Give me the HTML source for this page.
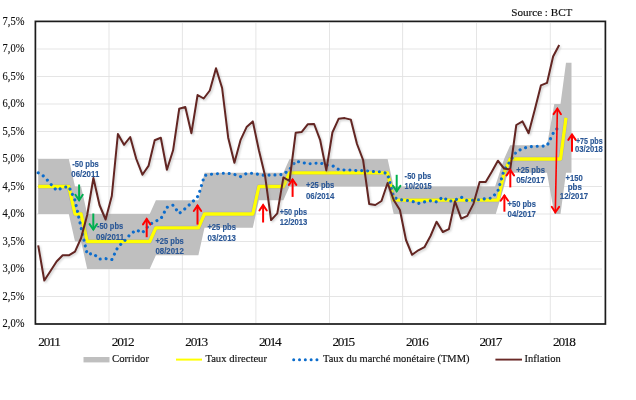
<!DOCTYPE html>
<html lang="fr">
<head>
<meta charset="utf-8">
<title>Taux directeur, TMM et inflation</title>
<style>
html,body{margin:0;padding:0;background:#fff;}
body{width:636px;height:400px;overflow:hidden;position:relative;}
svg{display:block;position:absolute;left:0;top:0;}
.ax{font-family:"Liberation Serif","DejaVu Serif",serif;fill:#111;stroke:#111;stroke-width:0.15px;}
.an{font-family:"Liberation Sans","DejaVu Sans Condensed",sans-serif;font-weight:bold;fill:#2a5796;stroke:#2a5796;stroke-width:0.15px;font-size:9.6px;}
</style>
</head>
<body>
<svg width="636" height="400" viewBox="0 0 636 400">
<defs>
<filter id="soft" x="-5%" y="-5%" width="110%" height="110%"><feGaussianBlur stdDeviation="0.5"/></filter>
<filter id="sh" x="-5%" y="-5%" width="110%" height="110%"><feGaussianBlur stdDeviation="0.8"/></filter>
</defs>
<rect x="0" y="0" width="636" height="400" fill="#ffffff"/>
<g filter="url(#soft)">
<g stroke="#e2e2e2" stroke-width="0.9" fill="none"><line x1="37" y1="296.5" x2="602" y2="296.5"/><line x1="37" y1="269.0" x2="602" y2="269.0"/><line x1="37" y1="241.5" x2="602" y2="241.5"/><line x1="37" y1="214.0" x2="602" y2="214.0"/><line x1="37" y1="186.5" x2="602" y2="186.5"/><line x1="37" y1="159.0" x2="602" y2="159.0"/><line x1="37" y1="131.5" x2="602" y2="131.5"/><line x1="37" y1="104.0" x2="602" y2="104.0"/><line x1="37" y1="76.5" x2="602" y2="76.5"/><line x1="37" y1="49.0" x2="602" y2="49.0"/><line x1="109.0" y1="23" x2="109.0" y2="323"/><line x1="182.4" y1="23" x2="182.4" y2="323"/><line x1="255.9" y1="23" x2="255.9" y2="323"/><line x1="329.5" y1="23" x2="329.5" y2="323"/><line x1="402.6" y1="23" x2="402.6" y2="323"/><line x1="476.5" y1="23" x2="476.5" y2="323"/><line x1="550.3" y1="23" x2="550.3" y2="323"/></g>
<polygon points="38.2,159.0 44.3,159.0 50.5,159.0 56.6,159.0 62.7,159.0 68.8,159.0 75.0,186.5 81.1,186.5 87.2,214.0 93.4,214.0 99.5,214.0 105.6,214.0 111.8,214.0 117.9,214.0 124.0,214.0 130.2,214.0 136.3,214.0 142.4,214.0 149.7,214.0 155.9,200.2 160.8,200.2 166.9,200.2 173.1,200.2 179.2,200.2 185.3,200.2 191.4,200.2 198.4,200.2 204.5,172.8 209.8,172.8 216.0,172.8 222.1,172.8 228.2,172.8 234.4,172.8 240.5,172.8 246.6,172.8 252.8,172.8 258.9,172.8 265.0,172.8 271.1,172.8 277.3,172.8 283.4,172.8 289.5,159.0 295.7,159.0 301.8,159.0 307.9,159.0 314.1,159.0 320.2,159.0 326.3,159.0 332.4,159.0 338.6,159.0 344.7,159.0 350.8,159.0 357.0,159.0 363.1,159.0 369.2,159.0 375.3,159.0 381.5,159.0 387.6,159.0 393.7,186.5 399.9,186.5 406.0,186.5 412.1,186.5 418.3,186.5 424.4,186.5 430.5,186.5 436.6,186.5 442.8,186.5 448.9,186.5 455.0,186.5 461.2,186.5 467.3,186.5 473.4,186.5 479.6,186.5 485.7,186.5 491.8,186.5 495.1,186.5 504.1,159.0 510.2,145.2 516.3,145.2 522.5,145.2 528.6,145.2 534.7,145.2 540.9,145.2 547.0,145.2 554.3,104.0 560.5,104.0 566.0,62.8 571.5,62.8 571.5,172.8 566.0,172.8 560.5,214.0 554.3,214.0 547.0,172.8 540.9,172.8 534.7,172.8 528.6,172.8 522.5,172.8 516.3,172.8 507.7,172.8 504.1,186.5 495.8,214.0 491.8,214.0 485.7,214.0 479.6,214.0 473.4,214.0 467.3,214.0 461.2,214.0 455.0,214.0 448.9,214.0 442.8,214.0 436.6,214.0 430.5,214.0 424.4,214.0 418.3,214.0 412.1,214.0 406.0,214.0 399.9,214.0 393.7,214.0 387.6,186.5 381.5,186.5 375.3,186.5 369.2,186.5 363.1,186.5 357.0,186.5 350.8,186.5 344.7,186.5 338.6,186.5 332.4,186.5 326.3,186.5 320.2,186.5 314.1,186.5 307.9,186.5 301.8,186.5 295.7,186.5 289.5,186.5 283.4,200.2 277.3,200.2 271.1,200.2 265.0,200.2 258.9,200.2 252.8,227.8 246.6,227.8 240.5,227.8 234.4,227.8 228.2,227.8 222.1,227.8 216.0,227.8 209.8,227.8 204.5,227.8 198.4,255.2 191.4,255.2 185.3,255.2 179.2,255.2 173.1,255.2 166.9,255.2 160.8,255.2 155.9,255.2 149.7,269.0 142.4,269.0 136.3,269.0 130.2,269.0 124.0,269.0 117.9,269.0 111.8,269.0 105.6,269.0 99.5,269.0 93.4,269.0 87.2,269.0 81.1,241.5 75.0,241.5 68.8,214.0 62.7,214.0 56.6,214.0 50.5,214.0 44.3,214.0 38.2,214.0" fill="#bfbfbf"/>
<polyline points="38.2,186.5 44.3,186.5 50.5,186.5 56.6,186.5 62.7,186.5 68.8,186.5 75.0,214.0 81.1,214.0 87.2,241.5 93.4,241.5 99.5,241.5 105.6,241.5 111.8,241.5 117.9,241.5 124.0,241.5 130.2,241.5 136.3,241.5 142.4,241.5 149.7,241.5 155.9,227.8 160.8,227.8 166.9,227.8 173.1,227.8 179.2,227.8 185.3,227.8 191.4,227.8 198.4,227.8 204.5,214.0 209.8,214.0 216.0,214.0 222.1,214.0 228.2,214.0 234.4,214.0 240.5,214.0 246.6,214.0 252.8,214.0 258.9,186.5 265.0,186.5 271.1,186.5 277.3,186.5 283.4,186.5 289.5,172.8 295.7,172.8 301.8,172.8 307.9,172.8 314.1,172.8 320.2,172.8 326.3,172.8 332.4,172.8 338.6,172.8 344.7,172.8 350.8,172.8 357.0,172.8 363.1,172.8 369.2,172.8 375.3,172.8 381.5,172.8 387.6,172.8 393.7,200.2 399.9,200.2 406.0,200.2 412.1,200.2 418.3,200.2 424.4,200.2 430.5,200.2 436.6,200.2 442.8,200.2 448.9,200.2 455.0,200.2 461.2,200.2 467.3,200.2 473.4,200.2 479.6,200.2 485.7,200.2 491.8,200.2 497.9,200.2 504.1,172.8 510.2,159.0 516.3,159.0 522.5,159.0 528.6,159.0 534.7,159.0 540.9,159.0 547.0,159.0 554.3,159.0 560.5,159.0 566.0,117.8" fill="none" stroke="#9c9cc4" stroke-opacity="0.75" stroke-width="4.3" stroke-linejoin="round"/>
<polyline points="38.2,186.5 44.3,186.5 50.5,186.5 56.6,186.5 62.7,186.5 68.8,186.5 75.0,214.0 81.1,214.0 87.2,241.5 93.4,241.5 99.5,241.5 105.6,241.5 111.8,241.5 117.9,241.5 124.0,241.5 130.2,241.5 136.3,241.5 142.4,241.5 149.7,241.5 155.9,227.8 160.8,227.8 166.9,227.8 173.1,227.8 179.2,227.8 185.3,227.8 191.4,227.8 198.4,227.8 204.5,214.0 209.8,214.0 216.0,214.0 222.1,214.0 228.2,214.0 234.4,214.0 240.5,214.0 246.6,214.0 252.8,214.0 258.9,186.5 265.0,186.5 271.1,186.5 277.3,186.5 283.4,186.5 289.5,172.8 295.7,172.8 301.8,172.8 307.9,172.8 314.1,172.8 320.2,172.8 326.3,172.8 332.4,172.8 338.6,172.8 344.7,172.8 350.8,172.8 357.0,172.8 363.1,172.8 369.2,172.8 375.3,172.8 381.5,172.8 387.6,172.8 393.7,200.2 399.9,200.2 406.0,200.2 412.1,200.2 418.3,200.2 424.4,200.2 430.5,200.2 436.6,200.2 442.8,200.2 448.9,200.2 455.0,200.2 461.2,200.2 467.3,200.2 473.4,200.2 479.6,200.2 485.7,200.2 491.8,200.2 497.9,200.2 504.1,172.8 510.2,159.0 516.3,159.0 522.5,159.0 528.6,159.0 534.7,159.0 540.9,159.0 547.0,159.0 554.3,159.0 560.5,159.0 566.0,117.8" fill="none" stroke="#ffff00" stroke-width="3.3" stroke-linejoin="round"/>
<polyline points="38.2,172.8 44.3,176.6 50.5,183.8 56.6,190.4 62.7,187.6 68.8,186.5 75.0,200.2 81.1,227.8 87.2,254.2 93.4,253.6 99.5,259.1 105.6,258.6 111.8,259.6 117.9,247.0 124.0,241.5 130.2,234.4 136.3,229.9 142.4,232.7 149.7,224.4 155.9,221.1 160.8,218.9 166.9,207.4 173.1,205.2 179.2,213.5 185.3,208.5 191.4,203.0 198.4,195.8 204.5,175.5 209.8,174.4 216.0,173.8 222.1,173.3 228.2,173.3 234.4,174.4 240.5,176.6 246.6,173.3 252.8,173.3 258.9,174.4 265.0,175.5 271.1,174.9 277.3,174.9 283.4,174.4 289.5,169.5 295.7,161.2 301.8,162.3 307.9,163.9 314.1,163.4 320.2,162.9 326.3,165.1 332.4,165.6 338.6,169.5 344.7,170.0 350.8,170.0 357.0,170.6 363.1,170.6 369.2,171.1 375.3,171.7 381.5,171.7 387.6,173.8 393.7,197.5 399.9,199.7 406.0,200.2 412.1,201.3 418.3,203.5 424.4,201.9 430.5,200.8 436.6,201.9 442.8,197.0 448.9,201.3 455.0,200.2 461.2,197.0 467.3,200.8 473.4,200.2 479.6,199.7 485.7,198.6 491.8,198.1 497.9,190.9 504.1,170.0 510.2,161.2 516.3,151.8 522.5,148.5 528.6,146.9 534.7,146.3 540.9,146.3 547.0,145.8 554.3,131.0 560.5,126.0" fill="none" stroke="#0a6ccc" stroke-width="3.1" stroke-linecap="round" stroke-dasharray="0.01 5.9" stroke-linejoin="round"/>
<polyline points="38.2,245.3 44.3,280.5 50.5,271.0 56.6,261.5 62.7,255.3 68.8,255.3 75.0,251.6 81.1,238.0 87.2,215.0 93.4,178.0 99.5,205.0 105.6,219.5 111.8,196.0 117.9,134.0 124.0,144.8 130.2,137.0 136.3,159.0 142.4,174.7 148.5,165.9 154.7,140.2 160.8,137.7 166.9,169.8 173.1,150.3 179.2,108.8 185.3,107.0 191.4,133.2 197.6,95.0 203.7,98.5 209.8,90.5 216.0,68.3 222.1,88.0 228.2,137.7 234.4,162.8 240.5,140.2 246.6,127.1 252.8,121.4 258.9,150.3 265.0,175.4 271.1,220.1 277.3,213.3 283.4,177.4 289.5,181.0 295.7,132.7 301.8,131.9 307.9,124.2 314.1,124.0 320.2,140.2 326.3,170.4 332.4,132.5 338.6,118.8 344.7,118.1 350.8,119.6 357.0,144.0 363.1,160.0 369.2,204.0 375.3,205.0 381.5,201.0 387.6,183.0 393.7,200.0 399.9,210.0 406.0,240.0 412.1,254.8 418.3,250.3 424.4,247.2 430.5,236.0 436.6,221.7 442.8,232.0 448.9,229.1 455.0,201.3 461.2,218.6 467.3,215.9 473.4,203.9 479.6,182.0 485.7,182.0 491.8,171.7 497.9,160.7 504.1,168.6 510.2,169.6 516.3,125.0 522.5,121.4 528.6,133.2 534.7,110.0 540.9,85.4 547.0,82.9 553.1,56.5 559.2,45.0" fill="none" stroke="#9a9a9a" stroke-opacity="0.55" stroke-width="1.8" stroke-linejoin="round" transform="translate(1.2,1.4)" filter="url(#sh)"/>
<polyline points="38.2,245.3 44.3,280.5 50.5,271.0 56.6,261.5 62.7,255.3 68.8,255.3 75.0,251.6 81.1,238.0 87.2,215.0 93.4,178.0 99.5,205.0 105.6,219.5 111.8,196.0 117.9,134.0 124.0,144.8 130.2,137.0 136.3,159.0 142.4,174.7 148.5,165.9 154.7,140.2 160.8,137.7 166.9,169.8 173.1,150.3 179.2,108.8 185.3,107.0 191.4,133.2 197.6,95.0 203.7,98.5 209.8,90.5 216.0,68.3 222.1,88.0 228.2,137.7 234.4,162.8 240.5,140.2 246.6,127.1 252.8,121.4 258.9,150.3 265.0,175.4 271.1,220.1 277.3,213.3 283.4,177.4 289.5,181.0 295.7,132.7 301.8,131.9 307.9,124.2 314.1,124.0 320.2,140.2 326.3,170.4 332.4,132.5 338.6,118.8 344.7,118.1 350.8,119.6 357.0,144.0 363.1,160.0 369.2,204.0 375.3,205.0 381.5,201.0 387.6,183.0 393.7,200.0 399.9,210.0 406.0,240.0 412.1,254.8 418.3,250.3 424.4,247.2 430.5,236.0 436.6,221.7 442.8,232.0 448.9,229.1 455.0,201.3 461.2,218.6 467.3,215.9 473.4,203.9 479.6,182.0 485.7,182.0 491.8,171.7 497.9,160.7 504.1,168.6 510.2,169.6 516.3,125.0 522.5,121.4 528.6,133.2 534.7,110.0 540.9,85.4 547.0,82.9 553.1,56.5 559.2,45.0" fill="none" stroke="#632523" stroke-width="2.0" stroke-linejoin="round"/>
<line x1="79.1" y1="184.5" x2="79.1" y2="200.6" stroke="#00b050" stroke-width="2.0"/><polyline points="75.4,194.8 79.1,200.2 82.8,194.8" fill="none" stroke="#00b050" stroke-width="2.0" stroke-linejoin="miter" stroke-linecap="round"/>
<line x1="93.3" y1="213.5" x2="93.3" y2="229.9" stroke="#00b050" stroke-width="2.0"/><polyline points="89.6,224.1 93.3,229.5 97.0,224.1" fill="none" stroke="#00b050" stroke-width="2.0" stroke-linejoin="miter" stroke-linecap="round"/>
<line x1="146.7" y1="218.6" x2="146.7" y2="237.2" stroke="#ff0000" stroke-width="2.0"/><polyline points="143.0,224.4 146.7,219.0 150.4,224.4" fill="none" stroke="#ff0000" stroke-width="2.0" stroke-linejoin="miter" stroke-linecap="round"/>
<line x1="197.5" y1="205.2" x2="197.5" y2="224.6" stroke="#ff0000" stroke-width="2.0"/><polyline points="193.8,211.0 197.5,205.6 201.2,211.0" fill="none" stroke="#ff0000" stroke-width="2.0" stroke-linejoin="miter" stroke-linecap="round"/>
<line x1="263.1" y1="204.7" x2="263.1" y2="222.5" stroke="#ff0000" stroke-width="2.0"/><polyline points="259.4,210.5 263.1,205.1 266.8,210.5" fill="none" stroke="#ff0000" stroke-width="2.0" stroke-linejoin="miter" stroke-linecap="round"/>
<line x1="292.6" y1="179.1" x2="292.6" y2="196.9" stroke="#ff0000" stroke-width="2.0"/><polyline points="288.9,184.9 292.6,179.5 296.3,184.9" fill="none" stroke="#ff0000" stroke-width="2.0" stroke-linejoin="miter" stroke-linecap="round"/>
<line x1="396.7" y1="174.8" x2="396.7" y2="191.7" stroke="#00b050" stroke-width="2.0"/><polyline points="393.0,185.9 396.7,191.3 400.4,185.9" fill="none" stroke="#00b050" stroke-width="2.0" stroke-linejoin="miter" stroke-linecap="round"/>
<line x1="504.4" y1="195.0" x2="504.4" y2="211.7" stroke="#ff0000" stroke-width="2.0"/><polyline points="500.7,200.8 504.4,195.4 508.1,200.8" fill="none" stroke="#ff0000" stroke-width="2.0" stroke-linejoin="miter" stroke-linecap="round"/>
<line x1="510.3" y1="169.6" x2="510.3" y2="187.4" stroke="#ff0000" stroke-width="2.0"/><polyline points="506.6,175.4 510.3,170.0 514.0,175.4" fill="none" stroke="#ff0000" stroke-width="2.0" stroke-linejoin="miter" stroke-linecap="round"/>
<line x1="572.0" y1="134.1" x2="572.0" y2="151.8" stroke="#ff0000" stroke-width="2.0"/><polyline points="568.3,139.9 572.0,134.5 575.7,139.9" fill="none" stroke="#ff0000" stroke-width="2.0" stroke-linejoin="miter" stroke-linecap="round"/>
<g transform="translate(557.4,107.6) rotate(1.14)" stroke="#ff0000" stroke-width="1.6" fill="none" stroke-linecap="round"><line x1="0" y1="1" x2="0" y2="104.8"/><polyline points="-3.7,6.6 0,1 3.7,6.6" stroke-width="1.9"/><polyline points="-3.7,99.2 0,104.8 3.7,99.2" stroke-width="1.9"/></g>
<text class="an" x="72.2" y="167.0" textLength="26.6" lengthAdjust="spacingAndGlyphs">-50 pbs</text>
<text class="an" x="71.3" y="177.3" textLength="28.0" lengthAdjust="spacingAndGlyphs">06/2011</text>
<text class="an" x="96.9" y="229.4" textLength="26.3" lengthAdjust="spacingAndGlyphs">-50 pbs</text>
<text class="an" x="96.1" y="239.6" textLength="28.1" lengthAdjust="spacingAndGlyphs">09/2011</text>
<text class="an" x="155.4" y="244.0" textLength="28.4" lengthAdjust="spacingAndGlyphs">+25 pbs</text>
<text class="an" x="155.4" y="254.2" textLength="28.4" lengthAdjust="spacingAndGlyphs">08/2012</text>
<text class="an" x="207.4" y="230.2" textLength="28.6" lengthAdjust="spacingAndGlyphs">+25 pbs</text>
<text class="an" x="207.4" y="240.7" textLength="28.6" lengthAdjust="spacingAndGlyphs">03/2013</text>
<text class="an" x="279.7" y="214.8" textLength="27.3" lengthAdjust="spacingAndGlyphs">+50 pbs</text>
<text class="an" x="279.7" y="224.9" textLength="27.7" lengthAdjust="spacingAndGlyphs">12/2013</text>
<text class="an" x="306.0" y="188.4" textLength="28.3" lengthAdjust="spacingAndGlyphs">+25 pbs</text>
<text class="an" x="306.0" y="199.4" textLength="28.3" lengthAdjust="spacingAndGlyphs">06/2014</text>
<text class="an" x="404.6" y="179.4" textLength="26.7" lengthAdjust="spacingAndGlyphs">-50 pbs</text>
<text class="an" x="404.6" y="189.3" textLength="27.2" lengthAdjust="spacingAndGlyphs">10/2015</text>
<text class="an" x="507.6" y="206.7" textLength="28.3" lengthAdjust="spacingAndGlyphs">+50 pbs</text>
<text class="an" x="507.6" y="216.9" textLength="28.3" lengthAdjust="spacingAndGlyphs">04/2017</text>
<text class="an" x="516.2" y="172.8" textLength="28.7" lengthAdjust="spacingAndGlyphs">+25 pbs</text>
<text class="an" x="516.2" y="183.1" textLength="28.7" lengthAdjust="spacingAndGlyphs">05/2017</text>
<text class="an" x="565.4" y="180.7" textLength="17.3" lengthAdjust="spacingAndGlyphs">+150</text>
<text class="an" x="567.7" y="190.0" textLength="14.2" lengthAdjust="spacingAndGlyphs">pbs</text>
<text class="an" x="559.8" y="199.3" textLength="28.4" lengthAdjust="spacingAndGlyphs">12/2017</text>
<text class="an" x="575.9" y="144.1" textLength="26.8" lengthAdjust="spacingAndGlyphs">+75 pbs</text>
<text class="an" x="575.0" y="152.0" textLength="27.7" lengthAdjust="spacingAndGlyphs">03/2018</text>
<rect x="35.4" y="21.4" width="570" height="302.6" fill="none" stroke="#1a1a1a" stroke-width="1.7"/>
<text class="ax" x="2.6" y="327.3" font-size="12.3" textLength="21.8" lengthAdjust="spacingAndGlyphs">2,0%</text>
<text class="ax" x="2.6" y="299.8" font-size="12.3" textLength="21.8" lengthAdjust="spacingAndGlyphs">2,5%</text>
<text class="ax" x="2.6" y="272.3" font-size="12.3" textLength="21.8" lengthAdjust="spacingAndGlyphs">3,0%</text>
<text class="ax" x="2.6" y="244.8" font-size="12.3" textLength="21.8" lengthAdjust="spacingAndGlyphs">3,5%</text>
<text class="ax" x="2.6" y="217.3" font-size="12.3" textLength="21.8" lengthAdjust="spacingAndGlyphs">4,0%</text>
<text class="ax" x="2.6" y="189.8" font-size="12.3" textLength="21.8" lengthAdjust="spacingAndGlyphs">4,5%</text>
<text class="ax" x="2.6" y="162.3" font-size="12.3" textLength="21.8" lengthAdjust="spacingAndGlyphs">5,0%</text>
<text class="ax" x="2.6" y="134.8" font-size="12.3" textLength="21.8" lengthAdjust="spacingAndGlyphs">5,5%</text>
<text class="ax" x="2.6" y="107.3" font-size="12.3" textLength="21.8" lengthAdjust="spacingAndGlyphs">6,0%</text>
<text class="ax" x="2.6" y="79.8" font-size="12.3" textLength="21.8" lengthAdjust="spacingAndGlyphs">6,5%</text>
<text class="ax" x="2.6" y="52.3" font-size="12.3" textLength="21.8" lengthAdjust="spacingAndGlyphs">7,0%</text>
<text class="ax" x="2.6" y="24.8" font-size="12.3" textLength="21.8" lengthAdjust="spacingAndGlyphs">7,5%</text>
<text class="ax" x="38.2" y="346.4" font-size="13.3" textLength="22.8" lengthAdjust="spacing">2011</text>
<text class="ax" x="111.8" y="346.4" font-size="13.3" textLength="22.8" lengthAdjust="spacing">2012</text>
<text class="ax" x="185.3" y="346.4" font-size="13.3" textLength="22.8" lengthAdjust="spacing">2013</text>
<text class="ax" x="258.9" y="346.4" font-size="13.3" textLength="22.8" lengthAdjust="spacing">2014</text>
<text class="ax" x="332.4" y="346.4" font-size="13.3" textLength="22.8" lengthAdjust="spacing">2015</text>
<text class="ax" x="406.0" y="346.4" font-size="13.3" textLength="22.8" lengthAdjust="spacing">2016</text>
<text class="ax" x="479.6" y="346.4" font-size="13.3" textLength="22.8" lengthAdjust="spacing">2017</text>
<text class="ax" x="553.1" y="346.4" font-size="13.3" textLength="22.8" lengthAdjust="spacing">2018</text>
<text class="ax" x="511.2" y="15.6" font-size="11" textLength="61.2" lengthAdjust="spacingAndGlyphs">Source : BCT</text>
<rect x="83.5" y="357" width="26" height="5.4" fill="#bfbfbf"/>
<text class="ax" x="112" y="362.4" font-size="11" textLength="37" lengthAdjust="spacingAndGlyphs">Corridor</text>
<line x1="176" y1="359.6" x2="202" y2="359.6" stroke="#ffff00" stroke-width="2"/>
<text class="ax" x="205.4" y="362.4" font-size="11" textLength="61.6" lengthAdjust="spacingAndGlyphs">Taux directeur</text>
<line x1="293.7" y1="359.7" x2="318" y2="359.7" stroke="#0a6ccc" stroke-width="3" stroke-linecap="round" stroke-dasharray="0.01 5.8"/>
<text class="ax" x="323" y="362.4" font-size="11" textLength="146.5" lengthAdjust="spacingAndGlyphs">Taux du marché monétaire (TMM)</text>
<line x1="495.4" y1="359.6" x2="522" y2="359.6" stroke="#6b2a28" stroke-width="1.9"/>
<text class="ax" x="524.6" y="362.4" font-size="11" textLength="36.2" lengthAdjust="spacingAndGlyphs">Inflation</text>
</g>
</svg>
</body>
</html>
